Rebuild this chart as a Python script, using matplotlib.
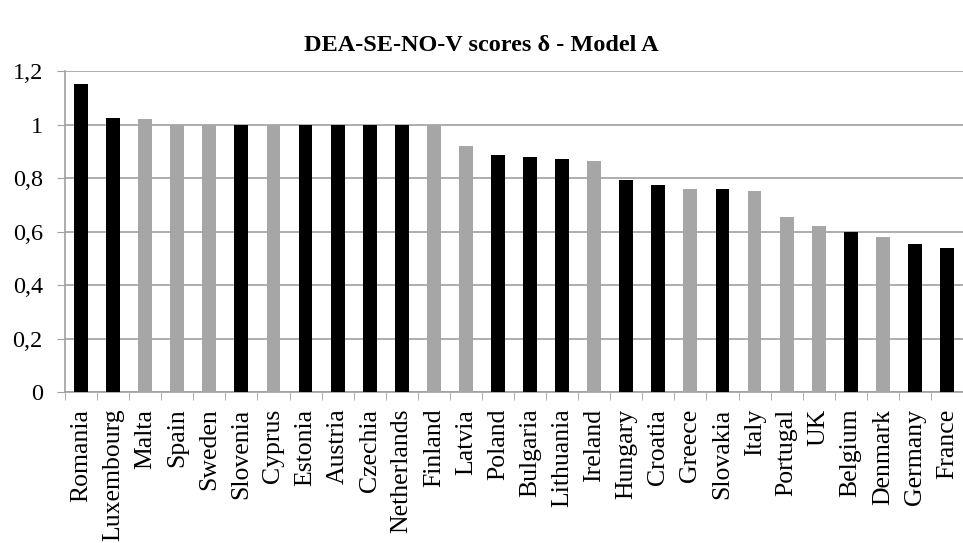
import numpy as np
import matplotlib.pyplot as plt
from matplotlib.ticker import FuncFormatter

countries = ["Romania", "Luxembourg", "Malta", "Spain", "Sweden", "Slovenia", "Cyprus",
             "Estonia", "Austria", "Czechia", "Netherlands", "Finland", "Latvia", "Poland",
             "Bulgaria", "Lithuania", "Ireland", "Hungary", "Croatia", "Greece", "Slovakia",
             "Italy", "Portugal", "UK", "Belgium", "Denmark", "Germany", "France"]
scores = [1.152, 1.025, 1.022, 1.0, 1.0, 1.0, 1.0,
          1.0, 1.0, 1.0, 1.0, 1.0, 0.921, 0.885,
          0.879, 0.873, 0.865, 0.794, 0.775, 0.761, 0.758,
          0.753, 0.656, 0.622, 0.598, 0.578, 0.554, 0.537]
# 1 = black bar, 0 = grey bar
dark = [1, 1, 0, 0, 0, 1, 0,
        1, 1, 1, 1, 0, 0, 1,
        1, 1, 0, 1, 1, 0, 1,
        0, 0, 0, 1, 0, 1, 1]

plt.rcParams['font.family'] = ['Liberation Serif', 'DejaVu Serif']

fig = plt.figure(figsize=(9.63, 5.43), dpi=100)
ax = fig.add_axes([0.0675, 0.278, 0.9325, 0.591])

colors = ['#000000' if d else '#A6A6A6' for d in dark]
x = np.arange(len(countries))
ax.bar(x, scores, width=0.43, color=colors, zorder=3)

ax.set_xlim(-0.5, len(countries) - 0.5)
ax.set_ylim(0, 1.2)
ax.set_yticks(np.arange(0, 1.21, 0.2))
ax.yaxis.set_major_formatter(FuncFormatter(
    lambda v, p: ('%g' % round(v, 1)).replace('.', ',')))
ax.grid(axis='y', color='#A0A0A0', linewidth=1.2, zorder=0)

ax.set_xticks(x)
ax.set_xticklabels(countries, rotation=90, fontsize=18.5)
ax.set_xticks(np.arange(-0.5, len(countries), 1), minor=True)
ax.tick_params(axis='x', which='major', length=0, pad=12)
ax.tick_params(axis='x', which='minor', length=6, color='#A0A0A0')
ax.tick_params(axis='y', length=6, color='#A0A0A0', labelsize=17.5, pad=10)

for s in ['top', 'right']:
    ax.spines[s].set_visible(False)
ax.spines['left'].set_color('#A0A0A0')
ax.spines['bottom'].set_color('#A0A0A0')
ax.spines['left'].set_linewidth(1.2)
ax.spines['bottom'].set_linewidth(1.2)

fig.text(0.5, 0.917, "DEA-SE-NO-V scores δ - Model A", ha='center', va='center',
         fontsize=17.5, fontweight='bold')

fig.savefig('out.png', dpi=100)
